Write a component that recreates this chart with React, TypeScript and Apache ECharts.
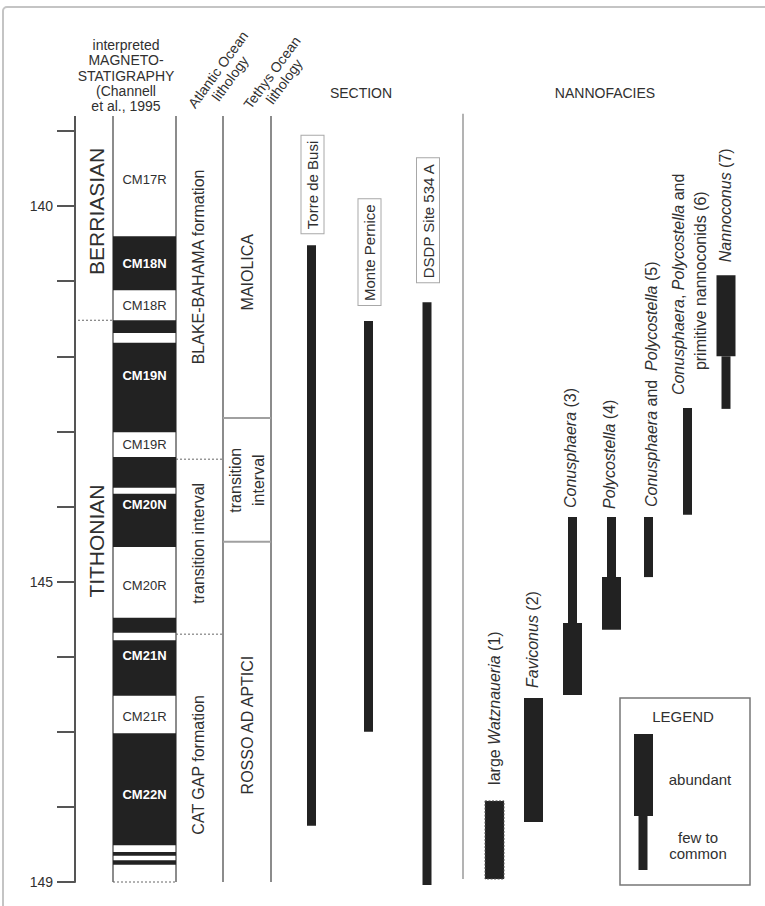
import React, { useEffect, useRef } from 'react';
import * as echarts from 'echarts';

const FONT = '"Liberation Sans", Arial, Helvetica, sans-serif';
const INK = '#222222';
const TEXT = '#303030';
const RULE = '#8c8c8c';

// ---------------- data (ages in Ma) ----------------
const ageMin = 139;
const ageMax = 149;
const ageTickStep = 1;
const labelledAges = [140, 145, 149];
const columnTopAge = 138.8;
const separatorTopAge = 138.77;
const separatorBaseAge = 148.96;

// stages
const stageNames = ['BERRIASIAN', 'TITHONIAN'];
const stageLabelAge = [140.07, 144.46];
const stageBoundaryAge = [141.52];

// magnetostratigraphy (Channell et al., 1995)
const chronBoundaryAge = [
  138.8, 140.4, 141.12, 141.52, 141.69, 141.82, 143.01, 143.34, 143.75, 143.83, 144.54,
  145.48, 145.68, 145.78, 146.52, 147.02, 148.51, 148.6, 148.65, 148.71, 148.77, 149.0,
];
const chronPolarity = [
  'R', 'N', 'R', 'N', 'R', 'N', 'R', 'N', 'R', 'N', 'R',
  'N', 'R', 'N', 'R', 'N', 'R', 'N', 'R', 'N', 'R',
];
const chronNames = ['CM17R', 'CM18N', 'CM18R', 'CM19N', 'CM19R', 'CM20N', 'CM20R', 'CM21N', 'CM21R', 'CM22N'];
const chronLabelAge = [139.65, 140.76, 141.32, 142.25, 143.17, 143.98, 145.05, 145.98, 146.79, 147.84];

// Atlantic Ocean lithology
const atlanticUnits = ['BLAKE-BAHAMA formation', 'transition interval', 'CAT GAP formation'];
const atlanticLabelAge = [140.81, 144.49, 147.44];
const atlanticBoundaryAge = [143.37, 145.7];

// Tethys Ocean lithology
const tethysUnits = ['MAIOLICA', 'transition\ninterval', 'ROSSO AD APTICI'];
const tethysLabelAge = [140.88, 143.65, 146.91];
const tethysBoundaryAge = [142.82, 144.47];

// sections
const sectionNames = ['Torre de Busi', 'Monte Pernice', 'DSDP Site 534 A'];
const sectionTopAge = [140.52, 141.53, 141.28];
const sectionBaseAge = [148.25, 147.0, 149.04];

// nannofacies
const nannoLabels = [
  ['large {i|Watznaueria} (1)'],
  ['{i|Faviconus} (2)'],
  ['{i|Conusphaera} (3)'],
  ['{i|Polycostella} (4)'],
  ['{i|Conusphaera} and  {i|Polycostella} (5)'],
  ['{i|Conusphaera}, {i|Polycostella} and', 'primitive nannoconids (6)'],
  ['{i|Nannoconus} (7)'],
];
const abundantTopAge = [147.92, 146.55, 145.55, 144.94, null, null, 140.92];
const abundantBaseAge = [148.96, 148.2, 146.51, 145.64, null, null, 142.0];
const commonTopAge = [null, null, 144.14, 144.14, 144.14, 142.69, 142.0];
const commonBaseAge = [null, null, 145.55, 144.94, 144.94, 144.11, 142.7];

// ---------------- layout (pixels) ----------------
const X = { axis: 75, stageDot: 78, stageMid: 96, polL: 113, polR: 176, polMid: 144.5, atlR: 223, atlMid: 198, tetR: 271, tetMid: 247, sep: 463 };
const sectionX = [311.5, 368.5, 427];
const sectionBarW = 9;
const sectionLabelGap = [12, 16, 20];
const nannoX = [494.5, 533.5, 572.5, 611.5, 648.5, 687.5, 726];
const nannoLabelGap = [16, 10, 9, 8, 10, 13, 13];
const nannoLineDx = [[0], [-1], [-2], [-2], [3], [-9.5, 12.5], [-1]];
const nannoLineDy = [[0], [0], [0], [0], [0], [0, 25], [0]];
const THICK = 19;
const THIN = 9;

const ROT = Math.PI / 2;

function rotatedLabelSeries(name: string, names: string[], ages: number[], x: number, style: any) {
  return {
    type: 'custom',
    name,
    clip: false,
    silent: true,
    z: 6,
    data: names.map((_, i) => [x, ages[i]]),
    renderItem: (params: any, api: any) => {
      const i = params.dataIndex;
      const p = api.coord([x, ages[i]]);
      return {
        type: 'text',
        x: p[0],
        y: p[1],
        rotation: ROT,
        style: {
          text: names[i],
          align: 'center',
          verticalAlign: 'middle',
          fontFamily: FONT,
          fill: TEXT,
          ...style,
        },
      };
    },
  };
}

function buildOption(): any {
  const series: any[] = [];

  // column rules and boundaries
  series.push({
    type: 'custom',
    name: 'rules',
    clip: false,
    silent: true,
    z: 1,
    data: [[X.axis, ageMin]],
    renderItem: (_p: any, api: any) => {
      const L = (x1: number, a1: number, x2: number, a2: number, style: any) => {
        const p1 = api.coord([x1, a1]);
        const p2 = api.coord([x2, a2]);
        return { type: 'line', shape: { x1: p1[0], y1: p1[1], x2: p2[0], y2: p2[1] }, style };
      };
      const solid = { stroke: RULE, lineWidth: 2 };
      const dotted = { stroke: '#666', lineWidth: 1, lineDash: [2, 2] };
      const children: any[] = [
        L(X.axis, columnTopAge, X.axis, ageMin, { stroke: '#555', lineWidth: 2 }),
        L(X.polL, columnTopAge, X.polL, ageMax, solid),
        L(X.polR, columnTopAge, X.polR, ageMax, solid),
        L(X.atlR, columnTopAge, X.atlR, ageMax, solid),
        L(X.tetR, columnTopAge, X.tetR, ageMax, solid),
        L(X.sep, separatorTopAge, X.sep, separatorBaseAge, { stroke: '#b3b3b3', lineWidth: 2 }),
        L(X.polL, ageMax, X.polR, ageMax, dotted),
        ...stageBoundaryAge.map((a) => L(X.stageDot, a, X.polL, a, dotted)),
        ...atlanticBoundaryAge.map((a) => L(X.polR, a, X.atlR, a, dotted)),
        ...tethysBoundaryAge.map((a) => L(X.atlR, a, X.tetR, a, { stroke: '#a0a0a0', lineWidth: 2 })),
      ];
      return { type: 'group', children };
    },
  });

  // polarity column
  series.push({
    type: 'custom',
    name: 'polarity',
    clip: false,
    silent: true,
    z: 2,
    data: chronPolarity.map((_, i) => [X.polL, chronBoundaryAge[i], chronBoundaryAge[i + 1]]),
    renderItem: (params: any, api: any) => {
      const i = params.dataIndex;
      const a = api.coord([X.polL, chronBoundaryAge[i]]);
      const b = api.coord([X.polR, chronBoundaryAge[i + 1]]);
      return {
        type: 'rect',
        shape: { x: a[0], y: a[1], width: b[0] - a[0], height: b[1] - a[1] },
        style: { fill: chronPolarity[i] === 'N' ? INK : 'rgba(255,255,255,0)' },
      };
    },
  });

  // chron labels
  series.push({
    type: 'custom',
    name: 'chrons',
    clip: false,
    silent: true,
    z: 6,
    data: chronNames.map((_, i) => [X.polMid, chronLabelAge[i]]),
    renderItem: (params: any, api: any) => {
      const i = params.dataIndex;
      const p = api.coord([X.polMid, chronLabelAge[i]]);
      const normal = chronNames[i].endsWith('N');
      return {
        type: 'text',
        x: p[0],
        y: p[1],
        style: {
          text: chronNames[i],
          align: 'center',
          verticalAlign: 'middle',
          fontFamily: FONT,
          fontSize: 13,
          fontWeight: normal ? 'bold' : 'normal',
          fill: normal ? '#ffffff' : TEXT,
        },
      };
    },
  });

  series.push(rotatedLabelSeries('stages', stageNames, stageLabelAge, X.stageMid, { fontSize: 21 }));
  series.push(rotatedLabelSeries('atlantic', atlanticUnits, atlanticLabelAge, X.atlMid, { fontSize: 16 }));
  series.push(rotatedLabelSeries('tethys', tethysUnits, tethysLabelAge, X.tetMid, { fontSize: 16, lineHeight: 23 }));

  // sections
  series.push({
    type: 'custom',
    name: 'sections',
    clip: false,
    silent: true,
    z: 4,
    data: sectionNames.map((_, i) => [sectionX[i], sectionTopAge[i], sectionBaseAge[i]]),
    renderItem: (params: any, api: any) => {
      const i = params.dataIndex;
      const t = api.coord([sectionX[i], sectionTopAge[i]]);
      const b = api.coord([sectionX[i], sectionBaseAge[i]]);
      return {
        type: 'group',
        children: [
          {
            type: 'rect',
            shape: { x: t[0] - sectionBarW / 2, y: t[1], width: sectionBarW, height: b[1] - t[1] },
            style: { fill: INK },
          },
          {
            type: 'text',
            x: t[0] + 1,
            y: t[1] - sectionLabelGap[i],
            rotation: ROT,
            style: {
              text: sectionNames[i],
              align: 'left',
              verticalAlign: 'middle',
              fontFamily: FONT,
              fontSize: 15,
              fill: TEXT,
              backgroundColor: '#ffffff',
              borderColor: '#a8a8a8',
              borderWidth: 1,
              padding: [4, 5, 3, 4],
            },
          },
        ],
      };
    },
  });

  // nannofacies
  const rich = { i: { fontStyle: 'italic', fontSize: 16, fontFamily: FONT, fill: TEXT } };
  series.push({
    type: 'custom',
    name: 'nannofacies',
    clip: false,
    silent: true,
    z: 4,
    data: nannoLabels.map((_, i) => [nannoX[i], (abundantTopAge[i] ?? commonTopAge[i]) as number]),
    renderItem: (params: any, api: any) => {
      const i = params.dataIndex;
      const xc = nannoX[i];
      const children: any[] = [];
      const cT = commonTopAge[i];
      const cB = commonBaseAge[i];
      const aT = abundantTopAge[i];
      const aB = abundantBaseAge[i];
      if (cT != null && cB != null) {
        const a = api.coord([xc, cT]);
        const b = api.coord([xc, cB]);
        children.push({
          type: 'rect',
          shape: { x: a[0] - THIN / 2, y: a[1], width: THIN, height: b[1] - a[1] },
          style: { fill: INK },
        });
      }
      if (aT != null && aB != null) {
        const a = api.coord([xc, aT]);
        const b = api.coord([xc, aB]);
        children.push({
          type: 'rect',
          shape: { x: a[0] - THICK / 2, y: a[1], width: THICK, height: b[1] - a[1] },
          style: i === 0 ? { fill: INK, stroke: '#555', lineWidth: 1, lineDash: [2, 1.5] } : { fill: INK },
        });
      }
      const tops = [aT, cT].filter((v) => v != null) as number[];
      const top = api.coord([xc, Math.min(...tops)]);
      nannoLabels[i].forEach((line, k) => {
        children.push({
          type: 'text',
          x: top[0] + nannoLineDx[i][k],
          y: top[1] - nannoLabelGap[i] - nannoLineDy[i][k],
          rotation: ROT,
          style: {
            text: line,
            rich,
            align: 'left',
            verticalAlign: 'middle',
            fontFamily: FONT,
            fontSize: 16,
            fill: TEXT,
          },
        });
      });
      return { type: 'group', children };
    },
  });

  const graphic: any[] = [
    {
      type: 'rect',
      silent: true,
      z: -10,
      shape: { x: 3, y: 7, width: 900, height: 1000, r: 4 },
      style: { fill: 'rgba(0,0,0,0)', stroke: '#c4c4c4', lineWidth: 2 },
    },
    {
      type: 'text',
      x: 126,
      y: 75.5,
      style: {
        text: 'interpreted\nMAGNETO-\nSTATIGRAPHY\n(Channell\net al., 1995',
        align: 'center',
        verticalAlign: 'middle',
        fontFamily: FONT,
        fontSize: 14,
        lineHeight: 15.3,
        fill: TEXT,
      },
    },
    {
      type: 'text',
      x: 224,
      y: 74,
      rotation: 0.94,
      style: {
        text: 'Atlantic Ocean\nlithology',
        align: 'center',
        verticalAlign: 'middle',
        fontFamily: FONT,
        fontSize: 14,
        lineHeight: 15,
        fill: TEXT,
      },
    },
    {
      type: 'text',
      x: 278,
      y: 77,
      rotation: 0.94,
      style: {
        text: 'Tethys Ocean\nlithology',
        align: 'center',
        verticalAlign: 'middle',
        fontFamily: FONT,
        fontSize: 14,
        lineHeight: 15,
        fill: TEXT,
      },
    },
    {
      type: 'text',
      x: 361,
      y: 93,
      style: { text: 'SECTION', align: 'center', verticalAlign: 'middle', fontFamily: FONT, fontSize: 14, fill: TEXT },
    },
    {
      type: 'text',
      x: 605,
      y: 93,
      style: { text: 'NANNOFACIES', align: 'center', verticalAlign: 'middle', fontFamily: FONT, fontSize: 14, fill: TEXT },
    },
    // legend
    {
      type: 'rect',
      silent: true,
      shape: { x: 620, y: 698, width: 130, height: 187 },
      style: { fill: '#fff', stroke: '#777', lineWidth: 1.5 },
    },
    {
      type: 'text',
      x: 683,
      y: 716,
      style: { text: 'LEGEND', align: 'center', verticalAlign: 'middle', fontFamily: FONT, fontSize: 15, fill: TEXT },
    },
    { type: 'rect', shape: { x: 634, y: 734, width: THICK, height: 82 }, style: { fill: INK } },
    { type: 'rect', shape: { x: 638.5, y: 816, width: THIN, height: 54 }, style: { fill: INK } },
    {
      type: 'text',
      x: 700,
      y: 779,
      style: { text: 'abundant', align: 'center', verticalAlign: 'middle', fontFamily: FONT, fontSize: 15, fill: TEXT },
    },
    {
      type: 'text',
      x: 698,
      y: 845,
      style: {
        text: 'few to\ncommon',
        align: 'center',
        verticalAlign: 'middle',
        fontFamily: FONT,
        fontSize: 15,
        lineHeight: 16,
        fill: TEXT,
      },
    },
  ];

  return {
    animation: false,
    backgroundColor: '#ffffff',
    grid: { left: 75, right: 0, top: 131, bottom: 24, containLabel: false },
    xAxis: { type: 'value', min: 75, max: 765, show: false },
    yAxis: {
      type: 'value',
      inverse: true,
      min: ageMin,
      max: ageMax,
      interval: ageTickStep,
      axisLine: { show: true, onZero: false, lineStyle: { color: '#555', width: 2 } },
      axisTick: { show: true, inside: false, length: 18, lineStyle: { color: '#555', width: 2 } },
      axisLabel: {
        margin: 22,
        fontSize: 14,
        color: TEXT,
        fontFamily: FONT,
        formatter: (v: number) => (labelledAges.includes(Math.round(v)) ? String(Math.round(v)) : ''),
      },
      splitLine: { show: false },
    },
    series,
    graphic,
  };
}

export default function App() {
  const ref = useRef<HTMLDivElement>(null);
  useEffect(() => {
    if (!ref.current) return;
    const chart = echarts.init(ref.current, undefined, { renderer: 'svg' });
    chart.setOption(buildOption());
    return () => chart.dispose();
  }, []);
  return (
    <div
      ref={ref}
      style={{ position: 'absolute', left: 0, top: 0, width: 765, height: 906, background: '#fff' }}
    />
  );
}
